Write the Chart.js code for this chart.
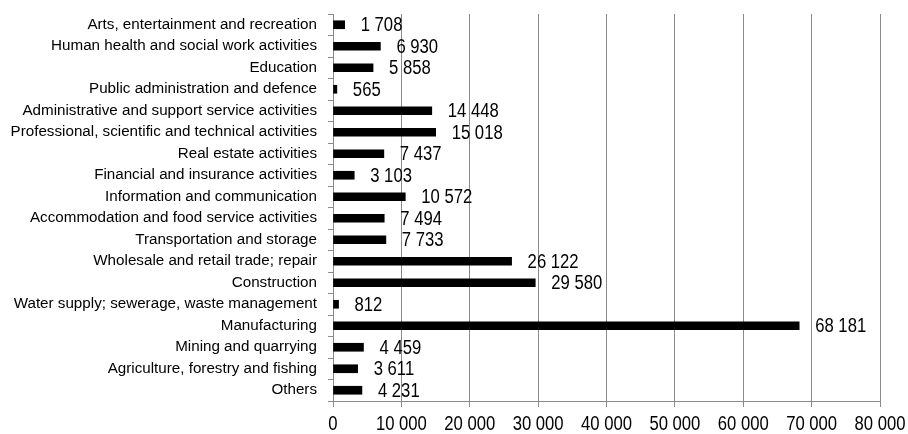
<!DOCTYPE html>
<html>
<head>
<meta charset="utf-8">
<script src="https://cdn.jsdelivr.net/npm/chart.js@4"></script>
<style>
html,body{margin:0;padding:0;background:#fff;}
#wrap{width:908px;height:434px;position:relative;}
</style>
</head>
<body>
<div id="wrap"><canvas id="c" width="908" height="434"></canvas></div>
<script>
const categories = [
  "Arts, entertainment and recreation",
  "Human health and social work activities",
  "Education",
  "Public administration and defence",
  "Administrative and support service activities",
  "Professional, scientific and technical activities",
  "Real estate activities",
  "Financial and insurance activities",
  "Information and communication",
  "Accommodation and food service activities",
  "Transportation and storage",
  "Wholesale and retail trade; repair",
  "Construction",
  "Water supply; sewerage, waste management",
  "Manufacturing",
  "Mining and quarrying",
  "Agriculture, forestry and fishing",
  "Others"
];
const values = [1708, 6930, 5858, 565, 14448, 15018, 7437, 3103, 10572, 7494, 7733, 26122, 29580, 812, 68181, 4459, 3611, 4231];
const xTicks = [0, 10000, 20000, 30000, 40000, 50000, 60000, 70000, 80000];

const FONT = '"Liberation Sans", Arial, sans-serif';
const NUM_FONT = '19.5px ' + FONT;
const SQUEEZE = 0.855;
function fmt(v){ return String(v).replace(/\B(?=(\d{3})+(?!\d))/g, ' '); }

function narrowText(ctx, text, x, y, align){
  ctx.save();
  ctx.translate(x, y);
  ctx.scale(SQUEEZE, 1);
  ctx.textAlign = align;
  ctx.fillText(text, 0, 0);
  ctx.restore();
}

const labelPlugin = {
  id: 'valueLabels',
  afterDraw(chart){
    const ctx = chart.ctx;
    const meta = chart.getDatasetMeta(0);
    const xs = chart.scales.x;
    ctx.save();
    ctx.fillStyle = '#000';
    ctx.font = NUM_FONT;
    ctx.textBaseline = 'middle';
    meta.data.forEach((bar, i) => {
      const x = xs.getPixelForValue(values[i]) + 16;
      narrowText(ctx, fmt(values[i]), x, bar.y + 1, 'left');
    });
    xTicks.forEach(v => {
      narrowText(ctx, fmt(v), xs.getPixelForValue(v), xs.bottom - 9, 'center');
    });
    ctx.restore();
  }
};

new Chart(document.getElementById('c'), {
  type: 'bar',
  data: {
    labels: categories,
    datasets: [{
      data: values,
      backgroundColor: '#000',
      borderWidth: 0,
      barThickness: 8
    }]
  },
  options: {
    indexAxis: 'y',
    responsive: false,
    animation: false,
    layout: { autoPadding: false, padding: { top: 14, right: 28, left: 0, bottom: 0 } },
    plugins: { legend: { display: false }, tooltip: { enabled: false } },
    scales: {
      x: {
        min: 0, max: 80000,
        afterBuildTicks(scale){ scale.ticks = xTicks.map(v => ({ value: v })); },
        afterFit(scale){ scale.height = 33; scale.paddingLeft = 0; scale.paddingRight = 0; },
        grid: { color: '#8a8a8a', lineWidth: 1, tickLength: 6, drawOnChartArea: true },
        border: { color: '#8a8a8a', width: 1 },
        ticks: { display: false }
      },
      y: {
        afterFit(scale){ scale.width = 333; scale.paddingTop = 0; scale.paddingBottom = 0; },
        grid: { offset: true, drawOnChartArea: false, color: '#8a8a8a', tickLength: 5 },
        border: { color: '#8a8a8a', width: 1 },
        ticks: {
          color: '#000',
          font: { size: 15.2, family: FONT },
          padding: 11,
          autoSkip: false
        }
      }
    }
  },
  plugins: [labelPlugin]
});
</script>
</body>
</html>
